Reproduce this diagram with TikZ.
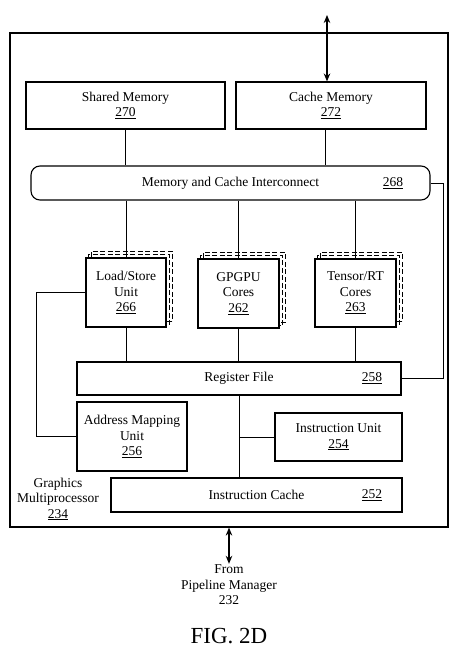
\documentclass[tikz,border=0pt]{standalone}
\usepackage{fontspec}
\setmainfont{Liberation Serif}
\usetikzlibrary{arrows.meta}

\tikzset{
  block/.style={draw, line width=1.1pt, fill=white, align=center, inner sep=1pt, font=\fontsize{13.5}{15.5}\selectfont},
  label/.style={align=center, inner sep=1pt, font=\fontsize{13.5}{15.5}\selectfont},
  link/.style={draw, line width=0.9pt},
  arrow/.style={{Stealth[length=8pt,width=6.5pt]}-{Stealth[length=8pt,width=6.5pt]}, line width=1.4pt, draw=black},
  shadow/.style={draw, line width=1.4pt, dash pattern=on 5pt off 2.5pt}
}

\begin{document}
\begin{tikzpicture}[x=1pt, y=-1pt]
  \useasboundingbox (0,0) rectangle (458,652);
  \node[draw, line width=1.2pt, minimum width=438pt, minimum height=494pt] (gm) at (229,280) {};
  \node[block, minimum width=199pt, minimum height=47pt] (sharedmem) at (125.5,105.5) {Shared Memory\\\underline{270}};
  \node[block, minimum width=190pt, minimum height=47pt] (cachemem) at (331,105.5) {Cache Memory\\\underline{272}};
  \node[block, rounded corners=9pt, minimum width=399pt, minimum height=34pt] (interconnect) at (230.5,183) {Memory and Cache Interconnect};
  \node[label] (n268) at (393,183) {\underline{268}};
  \node[block, minimum width=80pt, minimum height=69pt] (lsu) at (126,292.5) {Load/Store\\Unit\\\underline{266}};
  \node[block, minimum width=81pt, minimum height=69pt] (gpgpu) at (238.5,293.5) {GPGPU\\Cores\\\underline{262}};
  \node[block, minimum width=81pt, minimum height=68pt] (tensor) at (355.5,293) {Tensor/RT\\Cores\\\underline{263}};
  \node[block, minimum width=324pt, minimum height=33pt] (regfile) at (239,378.5) {Register File};
  \node[label] (n258) at (372,378.5) {\underline{258}};
  \node[block, minimum width=110pt, minimum height=69pt] (addrmap) at (132,436.5) {Address Mapping\\Unit\\\underline{256}};
  \node[block, minimum width=127pt, minimum height=48pt] (instrunit) at (338.5,437) {Instruction Unit\\\underline{254}};
  \node[block, minimum width=291pt, minimum height=34pt] (instrcache) at (256.5,495) {Instruction Cache};
  \node[label] (n252) at (372,495) {\underline{252}};
  \node[label] (gmlabel) at (58,499) {Graphics\\Multiprocessor\\\underline{234}};
  \node[label] (pipeline) at (229,585) {From\\Pipeline Manager\\232};
  \node[font=\fontsize{23}{26}\selectfont] (fig) at (229,636) {FIG. 2D};
  \coordinate (top) at (327,15);

  % stacked copies behind the cores
  \foreach \n in {lsu,gpgpu,tensor}
    \foreach \s in {3,6}
      \draw[shadow] ([xshift=\s pt]\n.north west) -- ([shift={(\s pt,\s pt)}]\n.north west) -- ([shift={(\s pt,\s pt)}]\n.north east) -- ([shift={(\s pt,\s pt)}]\n.south east) -- ([yshift=\s pt]\n.south east);

  \draw[arrow] (top) -- (top |- cachemem.north);
  \draw[link] (sharedmem.south) -- (sharedmem.south |- interconnect.north);
  \draw[link] ([xshift=-6pt]cachemem.south) -- ([xshift=-6pt]cachemem.south |- interconnect.north);
  \foreach \n in {lsu,gpgpu,tensor} {
    \draw[link] (\n.north |- interconnect.south) -- (\n.north);
    \draw[link] (\n.south) -- (\n.south |- regfile.north);
  }
  \draw[link] (interconnect.east) -- ++(13,0) |- (regfile.east);
  \draw[link] (regfile.south) -- (regfile.south |- instrcache.north);
  \draw[link] (instrunit.west -| regfile.south) -- (instrunit.west);
  \draw[link] (lsu.west) -- ++(-49,0) |- (addrmap.west);
  \draw[arrow] (gm.south -| pipeline) -- (pipeline.north);
\end{tikzpicture}
\end{document}
